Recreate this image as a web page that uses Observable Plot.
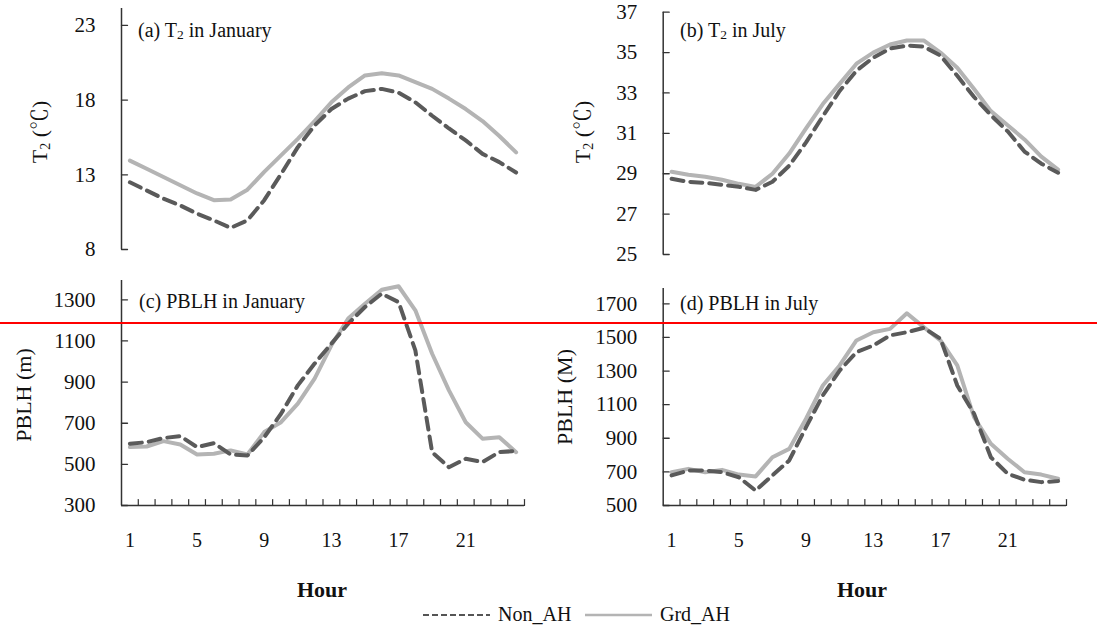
<!DOCTYPE html>
<html><head><meta charset="utf-8">
<script src="https://cdn.jsdelivr.net/npm/d3@7"></script>
<script src="https://cdn.jsdelivr.net/npm/@observablehq/plot@0.6"></script>
<style>
body{margin:0;background:#fff;}
#fig{position:relative;width:1097px;height:629px;overflow:hidden;font-family:"Liberation Serif","Times New Roman","Noto Serif CJK SC",serif;color:#111;}
.panel{position:absolute;}
.t{position:absolute;white-space:nowrap;line-height:1;}
.title{font-size:20px;transform:translateY(-50%);}
.title sub{font-size:13.5px;vertical-align:-2px;line-height:0;}
.ylab{font-size:22px;transform:translate(-50%,-50%) rotate(-90deg);}
.ylab sub{font-size:14px;vertical-align:-3px;line-height:0;}
.hour{font-size:22px;font-weight:bold;transform:translate(-50%,-50%);}
.leg{font-size:20px;transform:translateY(-50%);}
#red{position:absolute;left:0;top:322px;width:1097px;height:2px;background:#ff0000;}
</style></head><body><div id="fig"></div><script>
const hours = [1,2,3,4,5,6,7,8,9,10,11,12,13,14,15,16,17,18,19,20,21,22,23,24];
const hourLabels = [1,5,9,13,17,21];
const seriesNames = ["Non_AH","Grd_AH"];

const t2JanNon = [12.5,11.95,11.4,10.95,10.4,9.95,9.45,9.95,11.3,13.05,14.85,16.3,17.4,18.1,18.6,18.75,18.5,17.85,16.95,16.1,15.3,14.4,13.85,13.15];
const t2JanGrd = [13.95,13.4,12.85,12.3,11.75,11.3,11.35,12.0,13.2,14.3,15.4,16.6,17.85,18.85,19.65,19.8,19.65,19.2,18.75,18.1,17.4,16.6,15.6,14.5];
const t2JulNon = [28.75,28.6,28.55,28.45,28.35,28.2,28.6,29.4,30.55,31.85,33.1,34.1,34.75,35.2,35.35,35.3,34.85,33.85,32.8,31.9,31.1,30.1,29.5,29.05];
const t2JulGrd = [29.1,28.95,28.85,28.7,28.5,28.35,29.0,30.0,31.25,32.45,33.45,34.45,35.0,35.4,35.6,35.6,35.0,34.25,33.2,32.1,31.4,30.7,29.85,29.2];
const pblhJanNon = [600,608,628,637,584,603,548,543,632,746,884,990,1087,1184,1265,1330,1289,1054,559,486,527,511,560,565];
const pblhJanGrd = [584,587,613,597,548,552,568,548,657,705,795,917,1079,1209,1281,1349,1366,1249,1038,860,705,625,632,559];
const pblhJulNon = [679,708,708,698,668,589,679,768,966,1155,1303,1412,1452,1512,1531,1557,1492,1214,1046,787,689,653,639,645];
const pblhJulGrd = [698,718,698,712,684,673,787,837,1016,1214,1333,1482,1531,1551,1644,1561,1482,1333,1025,867,778,698,684,659];

const t2JanTicks = [8,13,18,23];
const t2JulTicks = [25,27,29,31,33,35,37];
const pblhJanTicks = [300,500,700,900,1100,1300];
const pblhJulTicks = [500,700,900,1100,1300,1500,1700];

const fig = document.getElementById("fig");
const boundaries = hours.map(h => h + 0.5);
const FONT = '"Liberation Serif","Times New Roman",serif';
const tickShape = {draw(context, l) { context.moveTo(0, 0); context.lineTo(0, -l); }};

function panel({left, top, width, height, mL, mR, mT, mB, domain, ticks, grd, non, xAxis}) {
  const grdRows = hours.map((h, i) => ({hour: h, v: grd[i]}));
  const nonRows = hours.map((h, i) => ({hour: h, v: non[i]}));
  const marks = [
    Plot.ruleX([0.5], {stroke: "#333", strokeWidth: 1.5}),
    Plot.vector(ticks, {x: 0.5, y: d => d, length: 6, rotate: 90, anchor: "start", shape: tickShape, stroke: "#333", strokeWidth: 1.3}),
    Plot.axisY({ticks, label: null, tickFormat: d => String(d), tickSize: 0, tickPadding: 26, fontSize: 21, fill: "#111", fontFamily: FONT}),
    Plot.line(grdRows, {x: "hour", y: "v", stroke: "#b4b4b4", strokeWidth: 4, strokeLinejoin: "round"}),
    Plot.line(nonRows, {x: "hour", y: "v", stroke: "#5a5a5a", strokeWidth: 4, strokeDasharray: "12,7"})
  ];
  if (xAxis) {
    marks.push(
      Plot.ruleY([domain[0]], {stroke: "#333", strokeWidth: 1.5}),
      Plot.vector(boundaries, {x: d => d, y: domain[0], length: 6, rotate: 0, anchor: "start", shape: tickShape, stroke: "#333", strokeWidth: 1.2}),
      Plot.axisX({ticks: hourLabels, label: null, tickFormat: d => String(d), tickSize: 0, tickPadding: 27, fontSize: 20, fill: "#111", fontFamily: FONT})
    );
  }
  const svg = Plot.plot({
    width, height,
    marginLeft: mL, marginRight: mR, marginTop: mT, marginBottom: mB,
    x: {domain: [0.5, 24.5], label: null, axis: xAxis ? undefined : null},
    y: {domain, label: null, axis: null},
    style: {background: "transparent", fontFamily: FONT, overflow: "visible"},
    marks
  });
  svg.classList.add("panel");
  svg.style.left = left + "px";
  svg.style.top = top + "px";
  svg.style.position = "absolute";
  fig.appendChild(svg);
}

panel({left: 0, top: 0, width: 548, height: 262, mL: 121, mR: 24, mT: 8, mB: 13, domain: [8, 24.13], ticks: t2JanTicks, grd: t2JanGrd, non: t2JanNon, xAxis: false});
panel({left: 548, top: 0, width: 549, height: 262, mL: 114.7, mR: 31, mT: 11.7, mB: 8, domain: [25, 37], ticks: t2JulTicks, grd: t2JulGrd, non: t2JulNon, xAxis: false});
panel({left: 0, top: 262, width: 548, height: 300, mL: 121, mR: 24, mT: 18, mB: 57, domain: [300, 1394], ticks: pblhJanTicks, grd: pblhJanGrd, non: pblhJanNon, xAxis: true});
panel({left: 548, top: 262, width: 549, height: 300, mL: 114.7, mR: 31, mT: 26, mB: 57, domain: [500, 1791], ticks: pblhJulTicks, grd: pblhJulGrd, non: pblhJulNon, xAxis: true});

function addText(cls, html, x, y) {
  const d = document.createElement("div");
  d.className = "t " + cls;
  d.innerHTML = html;
  d.style.left = x + "px";
  d.style.top = y + "px";
  fig.appendChild(d);
  return d;
}
addText("title", "(a) T<sub>2</sub> in January", 138, 30);
addText("title", "(b) T<sub>2</sub> in July", 680, 30);
addText("title", "(c) PBLH in January", 139, 301);
addText("title", "(d) PBLH in July", 680, 303);
addText("ylab", "T<sub>2</sub> (℃)", 40, 132);
addText("ylab", "T<sub>2</sub> (℃)", 583, 132);
addText("ylab", "PBLH (m)", 24, 395);
addText("ylab", "PBLH (M)", 565, 397);
addText("hour", "Hour", 322, 590);
addText("hour", "Hour", 862, 590);

const legend = document.createElementNS("http://www.w3.org/2000/svg", "svg");
legend.setAttribute("width", 1097); legend.setAttribute("height", 629);
legend.style.position = "absolute"; legend.style.left = "0"; legend.style.top = "0"; legend.style.pointerEvents = "none";
const lg = d3.select(legend);
lg.append("line").attr("x1", 423).attr("x2", 490).attr("y1", 615).attr("y2", 615).attr("stroke", "#555").attr("stroke-width", 2).attr("stroke-dasharray", "6,3");
lg.append("line").attr("x1", 585).attr("x2", 652).attr("y1", 615).attr("y2", 615).attr("stroke", "#b4b4b4").attr("stroke-width", 2.5);
fig.appendChild(legend);
addText("leg", seriesNames[0], 498, 614);
addText("leg", seriesNames[1], 660, 614);

const red = document.createElement("div");
red.id = "red";
fig.appendChild(red);
</script></body></html>
